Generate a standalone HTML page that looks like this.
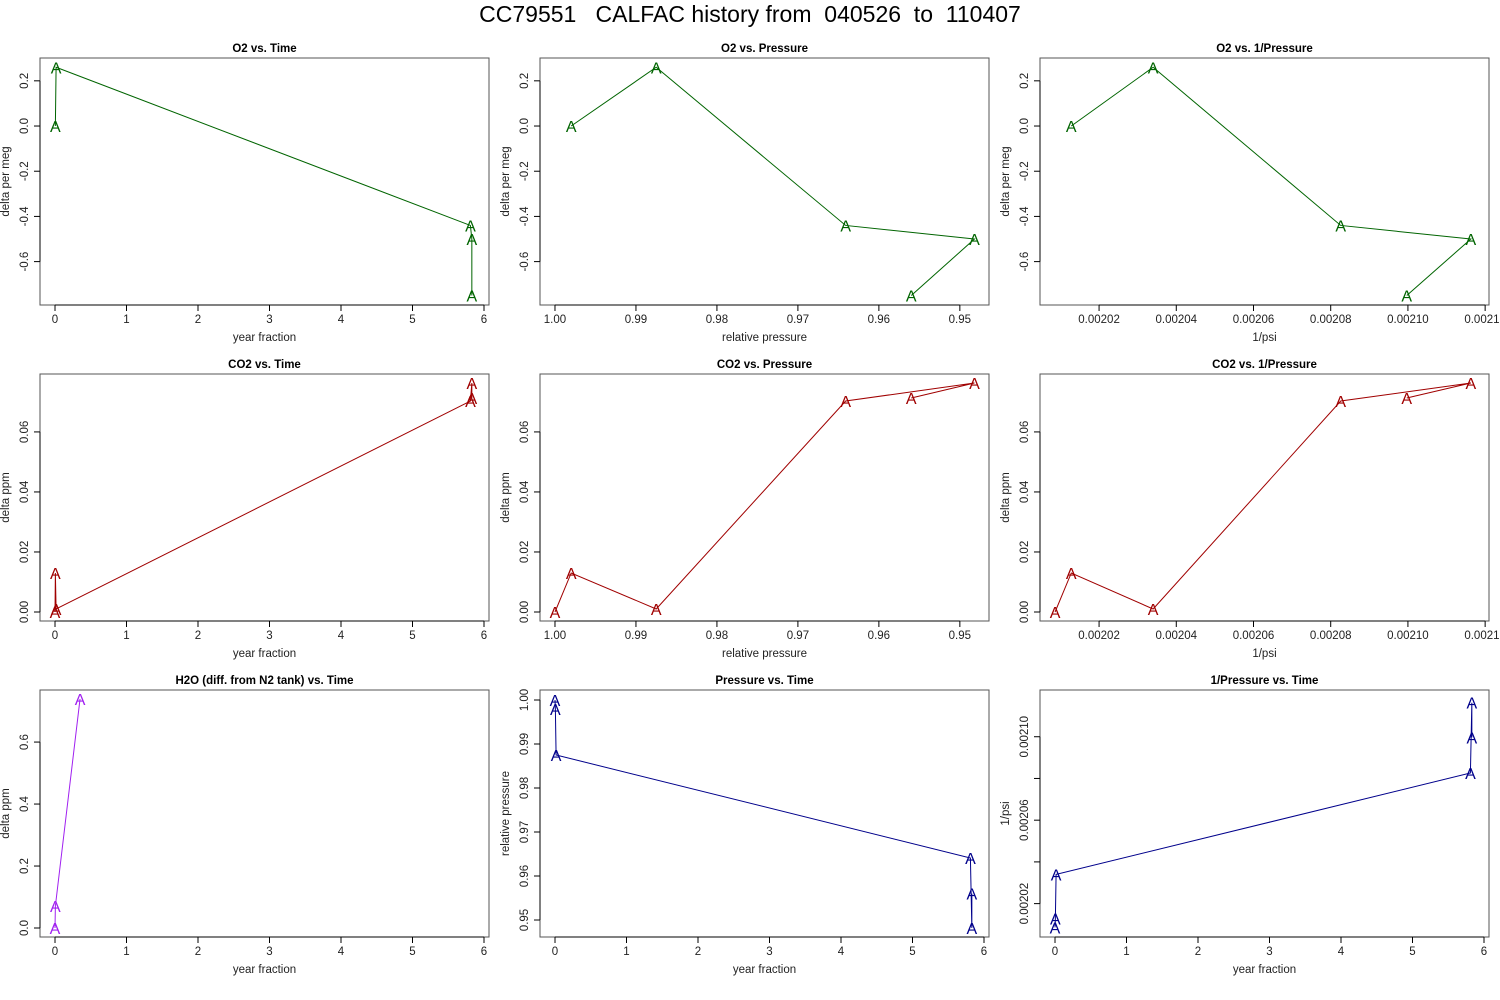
<!DOCTYPE html>
<html><head><meta charset="utf-8"><title>CC79551 CALFAC history</title>
<style>
html,body{margin:0;padding:0;background:#fff;}
svg{display:block;font-family:"Liberation Sans",Arial,sans-serif;}
#main-title{white-space:pre;}
</style></head>
<body>
<svg id="chart" width="1500" height="1000" viewBox="0 0 1500 1000">
<text id="main-title" x="750" y="22" font-size="23" text-anchor="middle" xml:space="preserve">CC79551   CALFAC history from  040526  to  110407</text>
</svg>
<script>
// ---- data ----
const times = [0, 0.005, 0.015, 5.81, 5.83, 5.83];
const pressure = [1.0, 0.998, 0.9875, 0.9641, 0.9482, 0.956];
const invPressure = [0.0020086, 0.0020128, 0.0020340, 0.0020826, 0.0021163, 0.0020997];
const o2 = [null, 0.0, 0.26, -0.44, -0.50, -0.75];
const co2 = [0.0, 0.013, 0.001, 0.0703, 0.0763, 0.0713];
const h2oTimes = [0, 0.005, 0.35];
const h2o = [0.0, 0.071, 0.739];
// ticks
const timeTicks = [0, 1, 2, 3, 4, 5, 6];
const pressureTicks = [1.00, 0.99, 0.98, 0.97, 0.96, 0.95];
const pressureTickLabels = ["1.00", "0.99", "0.98", "0.97", "0.96", "0.95"];
const invTicks = [0.00202, 0.00204, 0.00206, 0.00208, 0.00210, 0.00212];
const invTickLabels = ["0.00202", "0.00204", "0.00206", "0.00208", "0.00210", "0.00212"];
const o2Ticks = [0.2, 0.0, -0.2, -0.4, -0.6];
const o2TickLabels = ["0.2", "0.0", "-0.2", "-0.4", "-0.6"];
const co2Ticks = [0.00, 0.02, 0.04, 0.06];
const co2TickLabels = ["0.00", "0.02", "0.04", "0.06"];
const h2oTicks = [0.0, 0.2, 0.4, 0.6];
const h2oTickLabels = ["0.0", "0.2", "0.4", "0.6"];
const presYTicks = [0.95, 0.96, 0.97, 0.98, 0.99, 1.00];
const presYTickLabels = ["0.95", "0.96", "0.97", "0.98", "0.99", "1.00"];
const invYTicks = [0.00202, 0.00204, 0.00206, 0.00208, 0.00210];
const invYTickLabels = ["0.00202", "", "0.00206", "", "0.00210"];

const NS = "http://www.w3.org/2000/svg";
const svg = document.getElementById("chart");
function mk(tag, attrs, parent) {
  const e = document.createElementNS(NS, tag);
  for (const k in attrs) e.setAttribute(k, attrs[k]);
  (parent || svg).appendChild(e);
  return e;
}

const GREEN = "#006400", RED = "#a00000", PURPLE = "#a020f0", BLUE = "#00008b";
const timeLim = [-0.21, 6.07], presLim = [1.00185, 0.9464], invLim = [0.0020047, 0.0021210];
const timeLabels = timeTicks.map(String);

const panels = [
  {name:"o2-vs-time", title:"O2 vs. Time", xs:times, ys:o2, xlim:timeLim, ylim:[-0.792,0.301], xt:timeTicks, xl:timeLabels, yt:o2Ticks, yl:o2TickLabels, xlab:"year fraction", ylab:"delta per meg", col:GREEN},
  {name:"o2-vs-pressure", title:"O2 vs. Pressure", xs:pressure, ys:o2, xlim:presLim, ylim:[-0.792,0.301], xt:pressureTicks, xl:pressureTickLabels, yt:o2Ticks, yl:o2TickLabels, xlab:"relative pressure", ylab:"delta per meg", col:GREEN},
  {name:"o2-vs-inv-pressure", title:"O2 vs. 1/Pressure", xs:invPressure, ys:o2, xlim:invLim, ylim:[-0.792,0.301], xt:invTicks, xl:invTickLabels, yt:o2Ticks, yl:o2TickLabels, xlab:"1/psi", ylab:"delta per meg", col:GREEN},
  {name:"co2-vs-time", title:"CO2 vs. Time", xs:times, ys:co2, xlim:timeLim, ylim:[-0.003,0.0793], xt:timeTicks, xl:timeLabels, yt:co2Ticks, yl:co2TickLabels, xlab:"year fraction", ylab:"delta ppm", col:RED},
  {name:"co2-vs-pressure", title:"CO2 vs. Pressure", xs:pressure, ys:co2, xlim:presLim, ylim:[-0.003,0.0793], xt:pressureTicks, xl:pressureTickLabels, yt:co2Ticks, yl:co2TickLabels, xlab:"relative pressure", ylab:"delta ppm", col:RED},
  {name:"co2-vs-inv-pressure", title:"CO2 vs. 1/Pressure", xs:invPressure, ys:co2, xlim:invLim, ylim:[-0.003,0.0793], xt:invTicks, xl:invTickLabels, yt:co2Ticks, yl:co2TickLabels, xlab:"1/psi", ylab:"delta ppm", col:RED},
  {name:"h2o-vs-time", title:"H2O (diff. from N2 tank) vs. Time", xs:h2oTimes, ys:h2o, xlim:timeLim, ylim:[-0.029,0.768], xt:timeTicks, xl:timeLabels, yt:h2oTicks, yl:h2oTickLabels, xlab:"year fraction", ylab:"delta ppm", col:PURPLE},
  {name:"pressure-vs-time", title:"Pressure vs. Time", xs:times, ys:pressure, xlim:timeLim, ylim:[0.94614,1.00227], xt:timeTicks, xl:timeLabels, yt:presYTicks, yl:presYTickLabels, xlab:"year fraction", ylab:"relative pressure", col:BLUE},
  {name:"inv-pressure-vs-time", title:"1/Pressure vs. Time", xs:times, ys:invPressure, xlim:timeLim, ylim:[0.0020040,0.0021224], xt:timeTicks, xl:timeLabels, yt:invYTicks, yl:invYTickLabels, xlab:"year fraction", ylab:"1/psi", col:BLUE}
];

panels.forEach((p, i) => {
  const c = i % 3, r = Math.floor(i / 3);
  const L = 40 + 500 * c, R = 489 + 500 * c, T = 58 + 316 * r, B = 305 + 316 * r;
  const sx = v => L + (v - p.xlim[0]) / (p.xlim[1] - p.xlim[0]) * (R - L);
  const sy = v => B - (v - p.ylim[0]) / (p.ylim[1] - p.ylim[0]) * (B - T);
  const g = mk("g", {});
  
  

  const t = mk("text", {x:(L+R)/2, y:T-6, "font-size":11.5, "font-weight":"bold", "text-anchor":"middle"}, g);
  t.textContent = p.title;
  
  

  const box = mk("rect", {x:L, y:T, width:R-L, height:B-T, fill:"none", stroke:"#555", "stroke-width":1}, g);
  
  

  // x axis
  const xa = mk("g", {}, g);
  
  
  const xp = p.xt.map(sx);
  mk("line", {x1:Math.min(...xp), x2:Math.max(...xp), y1:B, y2:B, stroke:"#000"}, xa);
  p.xt.forEach((v, k) => {
    const x = sx(v);
    mk("line", {x1:x, x2:x, y1:B, y2:B+6, stroke:"#000"}, xa);
    const tl = mk("text", {x:x, y:B+18, "font-size":11.5, "text-anchor":"middle", fill:"#222"}, xa);
    tl.textContent = p.xl[k];
    
    
  });
  const xt = mk("text", {x:(L+R)/2, y:B+36, "font-size":11.5, "text-anchor":"middle", fill:"#222"}, g);
  xt.textContent = p.xlab;
  
  

  // y axis
  const ya = mk("g", {}, g);
  
  
  const yp = p.yt.map(sy);
  mk("line", {x1:L, x2:L, y1:Math.min(...yp), y2:Math.max(...yp), stroke:"#000"}, ya);
  p.yt.forEach((v, k) => {
    const y = sy(v);
    mk("line", {x1:L-6, x2:L, y1:y, y2:y, stroke:"#000"}, ya);
    if (p.yl[k]) {
      const tl = mk("text", {x:0, y:0, "font-size":11.5, "text-anchor":"middle", fill:"#222", transform:`translate(${L-12},${y}) rotate(-90)`}, ya);
      tl.textContent = p.yl[k];
      
      
    }
  });
  const yt = mk("text", {x:0, y:0, "font-size":11.5, "text-anchor":"middle", fill:"#222", transform:`translate(${L-31},${(T+B)/2}) rotate(-90)`}, g);
  yt.textContent = p.ylab;
  
  

  // series
  const pts = [];
  p.xs.forEach((xv, k) => {
    const yv = p.ys[k];
    if (xv == null || yv == null) return;
    pts.push([sx(xv), sy(yv)]);
  });
  const line = mk("polyline", {points:pts.map(q => q.join(",")).join(" "), fill:"none", stroke:p.col, "stroke-width":1}, g);
  
  
  pts.forEach(q => {
    const m = mk("text", {x:q[0], y:q[1]+6, "font-size":16, "text-anchor":"middle", fill:p.col}, g);
    m.textContent = "A";
    
    
  });
});
</script>
</body></html>
